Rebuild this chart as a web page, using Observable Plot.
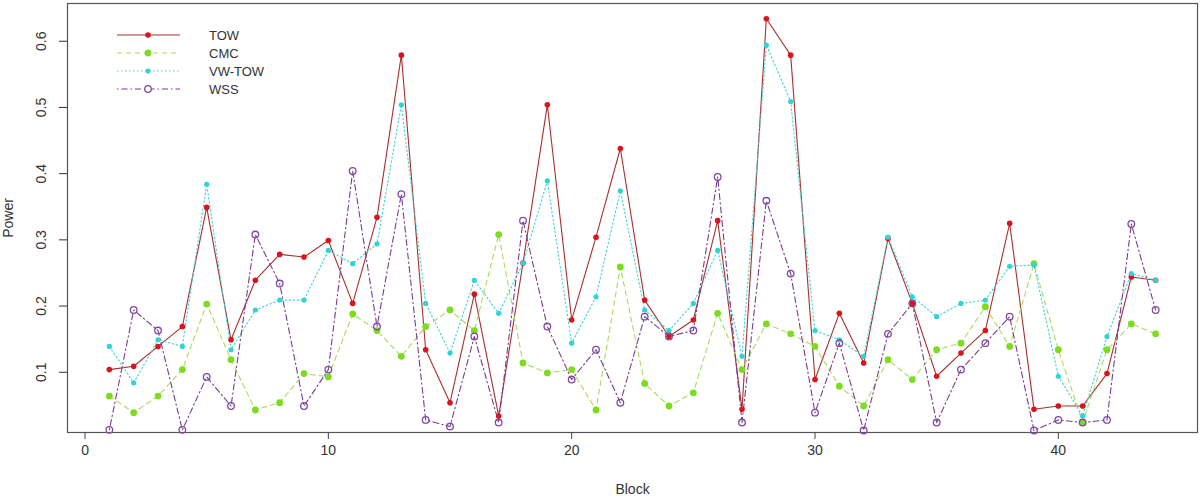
<!DOCTYPE html>
<html><head><meta charset="utf-8">
<script src="https://cdn.jsdelivr.net/npm/d3@7"></script>
<script src="https://cdn.jsdelivr.net/npm/@observablehq/plot@0.6"></script>
<style>
body{margin:0;background:#fff;font-family:"Liberation Sans",Arial,sans-serif}
#wrap{position:relative;width:1200px;height:500px}
#legend{position:absolute;left:0;top:0;pointer-events:none}
</style></head><body><div id="wrap"></div>
<script>
const blocks = d3.range(1, 45);
const xTicks = [0, 10, 20, 30, 40];
const yTicks = [0.1, 0.2, 0.3, 0.4, 0.5, 0.6];
const seriesNames = ["TOW", "CMC", "VW-TOW", "WSS"];
const tow = [0.104,0.109,0.139,0.169,0.349,0.149,0.239,0.278,0.274,0.299,0.204,0.334,0.579,0.134,0.054,0.218,0.034,0.265,0.504,0.179,0.304,0.438,0.209,0.154,0.179,0.329,0.044,0.634,0.579,0.089,0.189,0.114,0.302,0.204,0.094,0.129,0.163,0.325,0.044,0.049,0.049,0.098,0.244,0.239];
const cmc = [0.064,0.039,0.064,0.104,0.203,0.119,0.043,0.054,0.098,0.093,0.188,0.163,0.124,0.169,0.194,0.163,0.308,0.114,0.099,0.104,0.043,0.259,0.083,0.049,0.069,0.189,0.104,0.173,0.158,0.139,0.079,0.049,0.119,0.089,0.134,0.144,0.199,0.139,0.264,0.134,0.024,0.134,0.173,0.158];
const vwTow = [0.139,0.084,0.149,0.139,0.384,0.134,0.194,0.209,0.209,0.284,0.264,0.294,0.504,0.204,0.129,0.239,0.189,0.265,0.389,0.144,0.214,0.374,0.194,0.163,0.204,0.284,0.124,0.594,0.509,0.163,0.149,0.124,0.304,0.214,0.184,0.204,0.209,0.260,0.262,0.094,0.034,0.154,0.249,0.239];
const wss = [0.013,0.194,0.163,0.013,0.093,0.049,0.308,0.234,0.049,0.104,0.404,0.169,0.369,0.028,0.018,0.154,0.024,0.329,0.169,0.089,0.134,0.054,0.184,0.154,0.163,0.395,0.024,0.359,0.249,0.039,0.144,0.012,0.158,0.204,0.024,0.104,0.144,0.184,0.012,0.028,0.024,0.028,0.324,0.194];

const valuesByName = {"TOW": tow, "CMC": cmc, "VW-TOW": vwTow, "WSS": wss};
const styles = {
  "TOW":    {line:"#a8302c", point:"#d9141c", dash:null,          r:2.8, filled:true},
  "CMC":    {line:"#a9dc5c", point:"#7ddc1f", dash:"5,4",         r:3.4, filled:true},
  "VW-TOW": {line:"#3fd3d3", point:"#2fd4d6", dash:"1.5,2.5",     r:2.6, filled:true},
  "WSS":    {line:"#7a3a96", point:"#7f4aa0", dash:"1.5,3,6,3",   r:3.3, filled:false}
};
const rows = seriesNames.flatMap(name => valuesByName[name].map((v, i) => ({block: blocks[i], power: v, series: name})));

const marks = [Plot.frame({stroke:"#555", strokeWidth:1.2})];
for (const name of seriesNames) {
  const s = styles[name];
  const d = rows.filter(r => r.series === name);
  marks.push(Plot.line(d, {x:"block", y:"power", stroke:s.line, strokeWidth:1.1, strokeDasharray:s.dash}));
}
for (const name of seriesNames) {
  const s = styles[name];
  const d = rows.filter(r => r.series === name);
  marks.push(Plot.dot(d, s.filled
    ? {x:"block", y:"power", r:s.r, fill:s.point, stroke:"none"}
    : {x:"block", y:"power", r:s.r, fill:"none", stroke:s.point, strokeWidth:1.3}));
}
marks.push(Plot.axisX({ticks:xTicks, tickSize:7, tickPadding:6, fontSize:14, stroke:"#444", color:"#333",
  label:"Block", labelArrow:"none", labelAnchor:"center", labelOffset:61}));
marks.push(Plot.axisY({ticks:yTicks, tickSize:8, tickPadding:14, tickRotate:-90, fontSize:14, color:"#333",
  tickFormat:d3.format(".1f"), label:"Power", labelArrow:"none", labelAnchor:"center", labelOffset:64}));

const chart = Plot.plot({
  width:1200, height:500,
  marginLeft:67, marginRight:3, marginTop:3, marginBottom:68,
  x:{domain:[-0.72, 45.72]},
  y:{domain:[0.009, 0.657]},
  style:{fontFamily:"'Liberation Sans', Arial, sans-serif", fontSize:"14px", color:"#333", background:"#fff"},
  marks
});
const wrap = document.getElementById("wrap");
wrap.appendChild(chart);

// legend overlay (top-left inside plot)
const leg = d3.select(wrap).append("svg").attr("id","legend").attr("width",300).attr("height",110);
seriesNames.forEach((name, i) => {
  const s = styles[name];
  const y = 35 + i * 18;
  leg.append("line").attr("x1",117).attr("x2",180).attr("y1",y).attr("y2",y)
    .attr("stroke", s.line).attr("stroke-width",1.1).attr("stroke-dasharray", s.dash);
  const c = leg.append("circle").attr("cx",148).attr("cy",y).attr("r", s.r);
  if (s.filled) c.attr("fill", s.point); else c.attr("fill","#fff").attr("stroke", s.point).attr("stroke-width",1.3);
  leg.append("text").attr("x",209).attr("y",y).attr("dy","0.35em").attr("font-size",13)
    .attr("fill","#333").attr("font-family","'Liberation Sans', Arial, sans-serif").text(name);
});
</script></body></html>
